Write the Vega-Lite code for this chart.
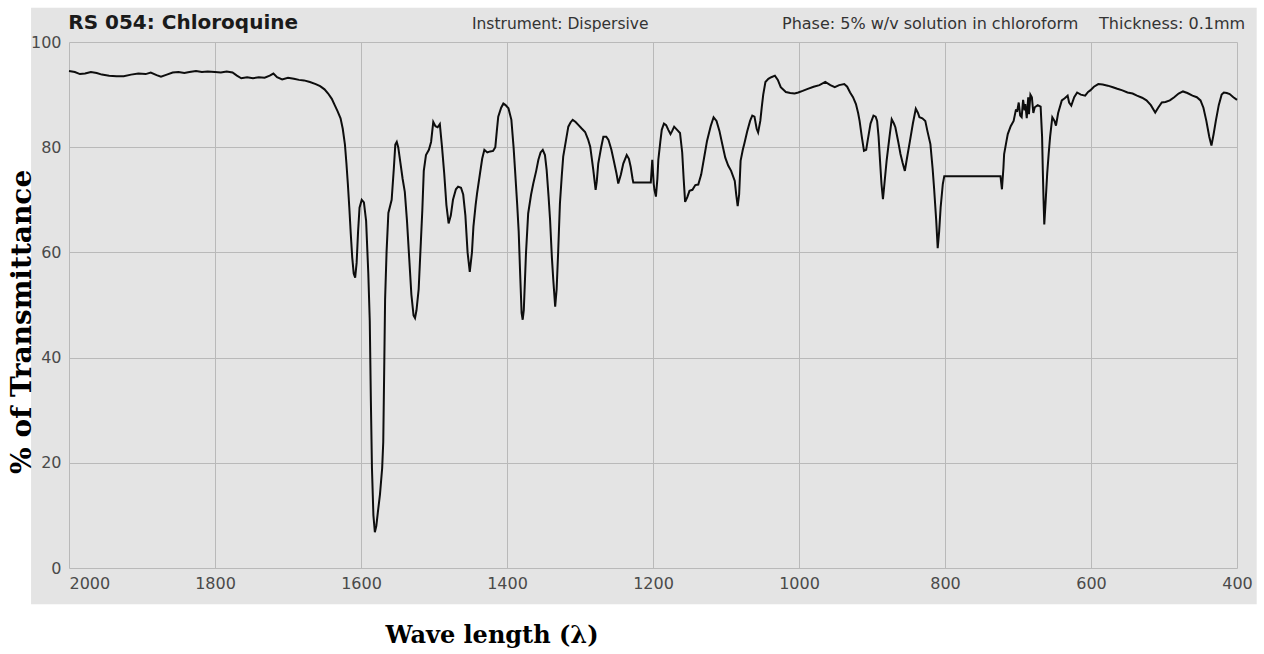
{
"$schema": "https://vega.github.io/schema/vega-lite/v6.json",
"width": 1168, "height": 526,
"autosize": {"type": "none"},
"padding": {"left": 69, "top": 42, "right": 27, "bottom": 86},
"background": "#e4e4e4",
"config": {"view": {"stroke": null}, "font": "DejaVu Sans",
  "axis": {"domain": false, "ticks": false, "grid": true, "gridColor": "#b9b9b9", "gridWidth": 1, "gridOpacity": 1, "labelFont": "DejaVu Sans", "labelFontSize": 16, "labelColor": "#4a4a4a", "labelOverlap": false, "title": null},
  "axisX": {"labelPadding": 7, "labelFlush": false},
  "axisY": {"labelPadding": 8, "labelBaseline": "middle"}},
"layer": [
{"data": {"values": [
{"w":2000,"t":94.5},{"w":1992,"t":94.3},{"w":1985,"t":93.9},{"w":1978,"t":94.0},{"w":1970,"t":94.3},{"w":1962,"t":94.1},{"w":1955,"t":93.8},{"w":1945,"t":93.6},{"w":1935,"t":93.5},{"w":1925,"t":93.5},{"w":1915,"t":93.8},{"w":1905,"t":94.0},{"w":1895,"t":93.9},{"w":1888,"t":94.2},{"w":1880,"t":93.7},{"w":1874,"t":93.4},{"w":1866,"t":93.8},{"w":1858,"t":94.2},{"w":1850,"t":94.3},{"w":1842,"t":94.1},{"w":1835,"t":94.3},{"w":1826,"t":94.5},{"w":1818,"t":94.3},{"w":1810,"t":94.4},{"w":1800,"t":94.3},{"w":1792,"t":94.2},{"w":1784,"t":94.4},{"w":1776,"t":94.2},{"w":1770,"t":93.6},{"w":1764,"t":93.1},{"w":1756,"t":93.3},{"w":1748,"t":93.1},{"w":1740,"t":93.3},{"w":1732,"t":93.2},{"w":1725,"t":93.6},{"w":1720,"t":94.0},{"w":1715,"t":93.3},{"w":1708,"t":92.9},{"w":1700,"t":93.2},{"w":1692,"t":93.0},{"w":1685,"t":92.8},{"w":1678,"t":92.7},{"w":1670,"t":92.4},{"w":1662,"t":92.0},{"w":1656,"t":91.6},{"w":1650,"t":91.0},{"w":1645,"t":90.2},{"w":1640,"t":89.2},{"w":1636,"t":88.0},{"w":1632,"t":86.8},{"w":1628,"t":85.5},{"w":1625,"t":83.5},{"w":1622,"t":80.5},{"w":1620,"t":77.0},{"w":1618,"t":73.0},{"w":1616,"t":68.5},{"w":1614,"t":63.5},{"w":1612,"t":59},{"w":1610,"t":56},{"w":1608,"t":55.2},{"w":1606,"t":58},{"w":1604,"t":64},{"w":1602,"t":68.5},{"w":1599,"t":70},{"w":1596,"t":69.5},{"w":1593,"t":66},{"w":1590,"t":56},{"w":1588,"t":47},{"w":1586.5,"t":32},{"w":1585,"t":19},{"w":1583,"t":10},{"w":1581,"t":6.8},{"w":1579,"t":8},{"w":1577,"t":10.5},{"w":1574,"t":14},{"w":1571,"t":19},{"w":1569.5,"t":24},{"w":1568,"t":40},{"w":1567,"t":51},{"w":1565,"t":60},{"w":1562.5,"t":67.5},{"w":1558,"t":70},{"w":1555,"t":76},{"w":1553,"t":80.5},{"w":1551,"t":81},{"w":1549,"t":80},{"w":1546,"t":77},{"w":1543,"t":74},{"w":1540,"t":71.5},{"w":1537,"t":66},{"w":1534,"t":59},{"w":1531,"t":52},{"w":1528,"t":48},{"w":1526,"t":47.5},{"w":1524,"t":49},{"w":1521,"t":53},{"w":1518,"t":62},{"w":1516,"t":68},{"w":1514,"t":75.5},{"w":1511,"t":78.5},{"w":1507,"t":79.5},{"w":1504,"t":81},{"w":1501,"t":84.8},{"w":1498,"t":84},{"w":1495,"t":83.8},{"w":1492,"t":84.4},{"w":1489,"t":80},{"w":1486,"t":75},{"w":1483,"t":69},{"w":1480,"t":65.5},{"w":1477,"t":67},{"w":1474,"t":70},{"w":1470,"t":72},{"w":1467,"t":72.5},{"w":1463,"t":72.3},{"w":1460,"t":71},{"w":1457,"t":67},{"w":1454,"t":60},{"w":1451,"t":56.3},{"w":1448,"t":60},{"w":1446,"t":64.9},{"w":1443,"t":69},{"w":1441,"t":71.2},{"w":1437,"t":75},{"w":1434,"t":77.8},{"w":1431,"t":79.5},{"w":1427,"t":79},{"w":1423,"t":79.2},{"w":1419,"t":79.3},{"w":1416,"t":80},{"w":1414,"t":83},{"w":1412,"t":85.8},{"w":1408,"t":87.5},{"w":1405,"t":88.3},{"w":1402,"t":88},{"w":1398,"t":87.4},{"w":1394,"t":85.2},{"w":1391,"t":80},{"w":1389,"t":75.7},{"w":1386,"t":69},{"w":1384,"t":64},{"w":1382,"t":56},{"w":1380,"t":48.5},{"w":1378.5,"t":47.2},{"w":1377,"t":49},{"w":1374,"t":59.8},{"w":1371,"t":67.4},{"w":1367,"t":71},{"w":1364,"t":73.1},{"w":1360,"t":75.5},{"w":1357,"t":77.6},{"w":1354,"t":79},{"w":1351,"t":79.5},{"w":1348,"t":78.5},{"w":1345.7,"t":75.7},{"w":1343,"t":70.5},{"w":1341,"t":66.2},{"w":1338.5,"t":59},{"w":1336.6,"t":54.8},{"w":1334,"t":49.7},{"w":1332,"t":53},{"w":1330,"t":59.8},{"w":1327.5,"t":69.3},{"w":1325,"t":74.5},{"w":1323,"t":78.2},{"w":1319,"t":81.5},{"w":1316,"t":83.9},{"w":1313,"t":84.7},{"w":1310,"t":85.2},{"w":1306,"t":84.8},{"w":1302,"t":84.2},{"w":1298,"t":83.6},{"w":1293,"t":82.9},{"w":1289,"t":81.5},{"w":1286,"t":80.1},{"w":1284,"t":78},{"w":1281.8,"t":75.7},{"w":1278.6,"t":71.9},{"w":1277,"t":73.5},{"w":1275,"t":76.9},{"w":1271,"t":80},{"w":1268,"t":82},{"w":1264,"t":82},{"w":1261,"t":81.4},{"w":1257,"t":79.5},{"w":1254,"t":77.6},{"w":1250,"t":75},{"w":1247.6,"t":73.1},{"w":1244,"t":74.8},{"w":1240.7,"t":76.9},{"w":1236,"t":78.5},{"w":1233,"t":77.8},{"w":1230.6,"t":76.3},{"w":1228,"t":74},{"w":1227,"t":73.3},{"w":1220,"t":73.3},{"w":1210,"t":73.3},{"w":1203,"t":73.3},{"w":1201,"t":77.6},{"w":1199,"t":73},{"w":1198,"t":71.9},{"w":1196,"t":70.6},{"w":1194,"t":74},{"w":1192.7,"t":77.6},{"w":1190,"t":81},{"w":1188,"t":83.3},{"w":1185,"t":84.5},{"w":1182,"t":84.2},{"w":1179,"t":83.3},{"w":1176,"t":82.5},{"w":1174,"t":83},{"w":1171,"t":83.9},{"w":1167,"t":83.3},{"w":1163,"t":82.7},{"w":1160,"t":79},{"w":1158,"t":74},{"w":1156,"t":69.6},{"w":1153,"t":70.5},{"w":1150,"t":71.7},{"w":1146,"t":71.9},{"w":1142,"t":72.8},{"w":1138,"t":72.9},{"w":1134,"t":74.8},{"w":1130,"t":78},{"w":1126,"t":81.2},{"w":1121,"t":84},{"w":1117,"t":85.7},{"w":1113,"t":85},{"w":1109,"t":83.1},{"w":1105,"t":80.5},{"w":1101,"t":78},{"w":1097,"t":76.5},{"w":1093,"t":75.5},{"w":1088,"t":73.6},{"w":1086,"t":71},{"w":1084,"t":68.8},{"w":1082,"t":71},{"w":1080,"t":77.4},{"w":1077,"t":79.5},{"w":1075,"t":80.6},{"w":1071,"t":83},{"w":1067,"t":85},{"w":1064,"t":86},{"w":1061,"t":85.8},{"w":1058,"t":83.5},{"w":1056,"t":82.8},{"w":1053,"t":85},{"w":1051,"t":87.6},{"w":1049,"t":90},{"w":1046,"t":92.4},{"w":1042,"t":93},{"w":1038,"t":93.3},{"w":1033,"t":93.6},{"w":1029,"t":92.8},{"w":1025,"t":91.4},{"w":1018,"t":90.5},{"w":1012,"t":90.3},{"w":1006,"t":90.2},{"w":1001,"t":90.4},{"w":995,"t":90.7},{"w":988,"t":91.1},{"w":980,"t":91.5},{"w":972,"t":91.8},{"w":964,"t":92.4},{"w":957,"t":91.8},{"w":951,"t":91.4},{"w":945,"t":91.8},{"w":938,"t":92},{"w":934,"t":91.5},{"w":930,"t":90.4},{"w":926,"t":89.5},{"w":922,"t":88.2},{"w":919,"t":86.5},{"w":917,"t":85},{"w":914,"t":82},{"w":911,"t":79.3},{"w":908,"t":79.5},{"w":906,"t":81.2},{"w":902,"t":84.5},{"w":898,"t":86},{"w":895,"t":85.8},{"w":893,"t":85},{"w":891,"t":82},{"w":889,"t":77.4},{"w":887,"t":73},{"w":885,"t":70.1},{"w":883,"t":73},{"w":880,"t":77.4},{"w":876,"t":82},{"w":873,"t":85.3},{"w":870,"t":84.5},{"w":868,"t":83.8},{"w":864,"t":81},{"w":861,"t":78.7},{"w":858,"t":77},{"w":855,"t":75.5},{"w":852,"t":78},{"w":848,"t":81.2},{"w":844,"t":84.5},{"w":840,"t":87.3},{"w":837,"t":86.5},{"w":835,"t":85.7},{"w":831,"t":85.5},{"w":827,"t":85},{"w":824,"t":83},{"w":820,"t":80.6},{"w":817,"t":76},{"w":815,"t":72.3},{"w":812,"t":66},{"w":810,"t":60.8},{"w":808,"t":64},{"w":806,"t":68.5},{"w":803,"t":73},{"w":801,"t":74.5},{"w":790,"t":74.5},{"w":770,"t":74.5},{"w":750,"t":74.5},{"w":735,"t":74.5},{"w":724,"t":74.5},{"w":722,"t":72},{"w":720,"t":76},{"w":719,"t":78.7},{"w":716,"t":81},{"w":714,"t":82.5},{"w":710,"t":84},{"w":706,"t":85},{"w":703,"t":87},{"w":701,"t":86.9},{"w":699,"t":88.5},{"w":697,"t":86},{"w":695,"t":85.7},{"w":693,"t":89},{"w":691,"t":87},{"w":690,"t":88.2},{"w":688,"t":85.5},{"w":686,"t":89.5},{"w":685,"t":86.3},{"w":683,"t":90},{"w":681,"t":89.5},{"w":679,"t":86.5},{"w":677,"t":87.6},{"w":673,"t":88},{"w":669,"t":87.7},{"w":667,"t":82},{"w":666,"t":75.5},{"w":665,"t":70},{"w":664,"t":65.3},{"w":662,"t":70},{"w":660,"t":75},{"w":658,"t":78.7},{"w":656,"t":82},{"w":653,"t":85.7},{"w":650,"t":85},{"w":648,"t":84.1},{"w":645,"t":86.5},{"w":640,"t":88.9},{"w":636,"t":89.3},{"w":632,"t":89.8},{"w":630,"t":88.5},{"w":627,"t":87.9},{"w":623,"t":89.5},{"w":619,"t":90.4},{"w":614,"t":90},{"w":608,"t":89.8},{"w":604,"t":90.5},{"w":601,"t":90.8},{"w":596,"t":91.5},{"w":590,"t":92},{"w":584,"t":91.9},{"w":577,"t":91.7},{"w":570,"t":91.4},{"w":564,"t":91.1},{"w":557,"t":90.8},{"w":550,"t":90.4},{"w":543,"t":90.2},{"w":537,"t":89.8},{"w":530,"t":89.4},{"w":524,"t":88.9},{"w":518,"t":88},{"w":512,"t":86.6},{"w":508,"t":87.5},{"w":503,"t":88.5},{"w":498,"t":88.6},{"w":492,"t":88.9},{"w":486,"t":89.5},{"w":480,"t":90.2},{"w":474,"t":90.6},{"w":468,"t":90.3},{"w":461,"t":89.8},{"w":455,"t":89.5},{"w":450,"t":88.9},{"w":446,"t":87.5},{"w":442,"t":85},{"w":438,"t":82},{"w":435,"t":80.3},{"w":432,"t":82.5},{"w":429,"t":85},{"w":425,"t":88},{"w":421,"t":90},{"w":418,"t":90.4},{"w":414,"t":90.3},{"w":410,"t":90.1},{"w":405,"t":89.5},{"w":400,"t":89}
]},
 "mark": {"type": "line", "color": "#0d0d0d", "strokeWidth": 2},
 "encoding": {
  "x": {"field": "w", "type": "quantitative", "scale": {"domain": [2000, 400], "nice": false, "zero": false},
   "axis": {"values": [2000, 1800, 1600, 1400, 1200, 1000, 800, 600, 400], "format": "d", "title": null,
    "labelAlign": {"condition": {"test": "datum.value == 2000", "value": "left"}, "value": "center"}}},
  "y": {"field": "t", "type": "quantitative", "scale": {"domain": [0, 100], "nice": false, "zero": false},
   "axis": {"values": [0, 20, 40, 60, 80, 100], "format": "d", "title": null}}
 }},
{"data": {"values": [{}]}, "mark": {"type": "rect", "color": "white"},
 "encoding": {"x": {"datum": 2200, "type": "quantitative", "scale": {"domain": [2000, 400], "nice": false, "zero": false}, "axis": {"values": [2000, 1800, 1600, 1400, 1200, 1000, 800, 600, 400], "format": "d", "title": null}}, "x2": {"datum": 2052},
  "y": {"datum": -40, "type": "quantitative", "scale": {"domain": [0, 100], "nice": false, "zero": false}, "axis": {"values": [0, 20, 40, 60, 80, 100], "format": "d", "title": null}}, "y2": {"datum": 130}}},
{"data": {"values": [{}]}, "mark": {"type": "rect", "color": "white"},
 "encoding": {"x": {"datum": 2200, "type": "quantitative", "scale": {"domain": [2000, 400], "nice": false, "zero": false}, "axis": {"values": [2000, 1800, 1600, 1400, 1200, 1000, 800, 600, 400], "format": "d", "title": null}}, "x2": {"datum": 250},
  "y": {"datum": -6.9, "type": "quantitative", "scale": {"domain": [0, 100], "nice": false, "zero": false}, "axis": {"values": [0, 20, 40, 60, 80, 100], "format": "d", "title": null}}, "y2": {"datum": -40}}},
{"data": {"values": [{}]}, "mark": {"type": "rect", "color": "white"},
 "encoding": {"x": {"datum": 2200, "type": "quantitative", "scale": {"domain": [2000, 400], "nice": false, "zero": false}, "axis": {"values": [2000, 1800, 1600, 1400, 1200, 1000, 800, 600, 400], "format": "d", "title": null}}, "x2": {"datum": 250},
  "y": {"datum": 106.5, "type": "quantitative", "scale": {"domain": [0, 100], "nice": false, "zero": false}, "axis": {"values": [0, 20, 40, 60, 80, 100], "format": "d", "title": null}}, "y2": {"datum": 130}}},
{"data": {"values": [{}]}, "mark": {"type": "rect", "color": "white"},
 "encoding": {"x": {"datum": 373, "type": "quantitative", "scale": {"domain": [2000, 400], "nice": false, "zero": false}, "axis": {"values": [2000, 1800, 1600, 1400, 1200, 1000, 800, 600, 400], "format": "d", "title": null}}, "x2": {"datum": 250},
  "y": {"datum": -40, "type": "quantitative", "scale": {"domain": [0, 100], "nice": false, "zero": false}, "axis": {"values": [0, 20, 40, 60, 80, 100], "format": "d", "title": null}}, "y2": {"datum": 130}}},
{"data": {"values": [{}]}, "mark": {"type": "text", "text": "RS 054: Chloroquine", "align": "left", "baseline": "alphabetic", "font": "DejaVu Sans", "fontSize": 20, "fontWeight": "bold", "color": "#1a1a1a"},
 "encoding": {"x": {"datum": 2001, "type": "quantitative", "scale": {"domain": [2000, 400], "nice": false, "zero": false}, "axis": {"values": [2000, 1800, 1600, 1400, 1200, 1000, 800, 600, 400], "format": "d", "title": null}}, "y": {"datum": 102.5, "type": "quantitative", "scale": {"domain": [0, 100], "nice": false, "zero": false}, "axis": {"values": [0, 20, 40, 60, 80, 100], "format": "d", "title": null}}}},
{"data": {"values": [{}]}, "mark": {"type": "text", "text": "Instrument: Dispersive", "align": "left", "baseline": "alphabetic", "font": "DejaVu Sans", "fontSize": 15.5, "color": "#333333"},
 "encoding": {"x": {"datum": 1448, "type": "quantitative", "scale": {"domain": [2000, 400], "nice": false, "zero": false}, "axis": {"values": [2000, 1800, 1600, 1400, 1200, 1000, 800, 600, 400], "format": "d", "title": null}}, "y": {"datum": 102.4, "type": "quantitative", "scale": {"domain": [0, 100], "nice": false, "zero": false}, "axis": {"values": [0, 20, 40, 60, 80, 100], "format": "d", "title": null}}}},
{"data": {"values": [{}]}, "mark": {"type": "text", "text": "Phase: 5% w/v solution in chloroform", "align": "left", "baseline": "alphabetic", "font": "DejaVu Sans", "fontSize": 16, "color": "#333333"},
 "encoding": {"x": {"datum": 1023.3, "type": "quantitative", "scale": {"domain": [2000, 400], "nice": false, "zero": false}, "axis": {"values": [2000, 1800, 1600, 1400, 1200, 1000, 800, 600, 400], "format": "d", "title": null}}, "y": {"datum": 102.4, "type": "quantitative", "scale": {"domain": [0, 100], "nice": false, "zero": false}, "axis": {"values": [0, 20, 40, 60, 80, 100], "format": "d", "title": null}}}},
{"data": {"values": [{}]}, "mark": {"type": "text", "text": "Thickness: 0.1mm", "align": "left", "baseline": "alphabetic", "font": "DejaVu Sans", "fontSize": 16, "color": "#333333"},
 "encoding": {"x": {"datum": 589, "type": "quantitative", "scale": {"domain": [2000, 400], "nice": false, "zero": false}, "axis": {"values": [2000, 1800, 1600, 1400, 1200, 1000, 800, 600, 400], "format": "d", "title": null}}, "y": {"datum": 102.4, "type": "quantitative", "scale": {"domain": [0, 100], "nice": false, "zero": false}, "axis": {"values": [0, 20, 40, 60, 80, 100], "format": "d", "title": null}}}},
{"data": {"values": [{}]}, "mark": {"type": "text", "text": "% of Transmittance", "angle": 270, "align": "center", "baseline": "alphabetic", "font": "DejaVu Serif", "fontSize": 28, "fontWeight": "bold", "color": "black"},
 "encoding": {"x": {"datum": 2052, "type": "quantitative", "scale": {"domain": [2000, 400], "nice": false, "zero": false}, "axis": {"values": [2000, 1800, 1600, 1400, 1200, 1000, 800, 600, 400], "format": "d", "title": null}}, "y": {"datum": 46.8, "type": "quantitative", "scale": {"domain": [0, 100], "nice": false, "zero": false}, "axis": {"values": [0, 20, 40, 60, 80, 100], "format": "d", "title": null}}}},
{"data": {"values": [{}]}, "mark": {"type": "text", "text": "Wave length (λ)", "align": "center", "baseline": "alphabetic", "font": "DejaVu Serif", "fontSize": 24, "fontWeight": "bold", "color": "black"},
 "encoding": {"x": {"datum": 1420.5, "type": "quantitative", "scale": {"domain": [2000, 400], "nice": false, "zero": false}, "axis": {"values": [2000, 1800, 1600, 1400, 1200, 1000, 800, 600, 400], "format": "d", "title": null}}, "y": {"datum": -14.26, "type": "quantitative", "scale": {"domain": [0, 100], "nice": false, "zero": false}, "axis": {"values": [0, 20, 40, 60, 80, 100], "format": "d", "title": null}}}}
]
}
